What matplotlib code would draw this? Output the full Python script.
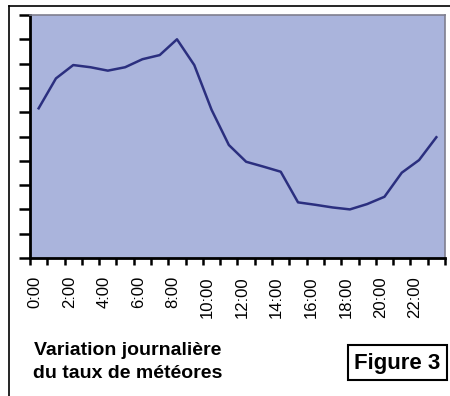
import matplotlib
matplotlib.use("Agg")
import matplotlib.pyplot as plt
from matplotlib.lines import Line2D
from matplotlib.patches import Rectangle
import matplotlib.transforms as mtransforms

plt.rcParams['font.family'] = ['Liberation Sans', 'DejaVu Sans']

# taux horaire (unités arbitraires), une valeur par heure
heures = list(range(24))
taux = [6.16, 7.39, 7.94, 7.85, 7.71, 7.85, 8.18, 8.35, 9.0, 7.94, 6.1, 4.65,
        3.96, 3.76, 3.55, 2.29, 2.19, 2.08, 2.0, 2.22, 2.52, 3.51, 4.03, 4.97]
etiquettes = ["%d:00" % h for h in range(0, 24, 2)]

fig = plt.figure(figsize=(4.5, 3.96), dpi=100)
ax = fig.add_axes([30 / 450, 1 - 258 / 396, 415 / 450, 243 / 396])
ax.set_facecolor("#aab4dc")

ax.plot(heures, taux, color="#2b2f7f", lw=1.8)

ax.set_xlim(-0.5, 23.5)
ax.set_ylim(0, 10)

# graduations entre les catégories, étiquettes au centre une heure sur deux
ax.set_xticks([i - 0.5 for i in range(25)])
ax.set_xticklabels([])
ax.set_xticks(list(range(0, 24, 2)), minor=True)
ax.set_xticklabels(etiquettes, minor=True, rotation=90, fontsize=12)
ax.tick_params(axis="x", which="major", direction="out", length=5, width=1.8)
ax.tick_params(axis="x", which="minor", length=0, pad=13)
decalage = mtransforms.ScaledTranslation(-4 / 100, 0, fig.dpi_scale_trans)
for lab in ax.get_xticklabels(minor=True):
    lab.set_transform(lab.get_transform() + decalage)

ax.set_yticks(range(11))
ax.set_yticklabels([])
ax.tick_params(axis="y", direction="out", length=8, width=1.8)

for cote in ["left", "bottom"]:
    ax.spines[cote].set_linewidth(2)
    ax.spines[cote].set_color("black")
for cote in ["top", "right"]:
    ax.spines[cote].set_linewidth(1.2)
    ax.spines[cote].set_color("#7f7f8f")

# cadre extérieur (haut et gauche)
fig.add_artist(Line2D([9 / 450, 9 / 450], [0, 1 - 6 / 396], color="black", lw=1.2))
fig.add_artist(Line2D([9 / 450, 1], [1 - 6 / 396, 1 - 6 / 396], color="black", lw=1.2))

fig.text(128 / 450, 1 - 362 / 396, "Variation journalière\ndu taux de météores",
         ha="center", va="center", fontsize=14, fontweight="bold", linespacing=1.4)

fig.add_artist(Rectangle((348 / 450, 1 - 380 / 396), 99 / 450, 35 / 396,
                         transform=fig.transFigure, fill=False, ec="black", lw=1.5))
fig.text(397.5 / 450, 1 - 363 / 396, "Figure 3", ha="center", va="center",
         fontsize=16, fontweight="bold")

fig.savefig("out.png", dpi=100)
